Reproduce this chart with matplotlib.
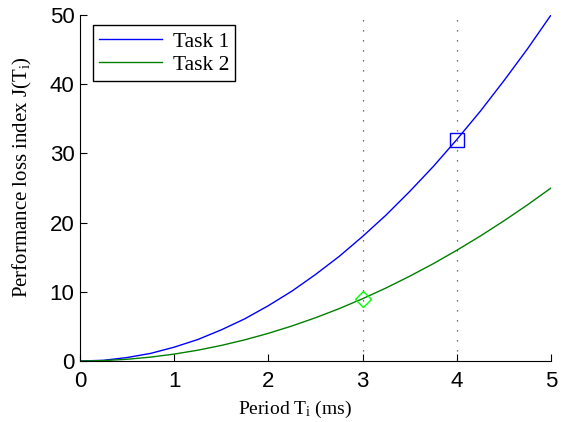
import numpy as np
from matplotlib import pyplot as plt

# Values
period = [0, 0.25, 0.5, 0.75, 1.0, 1.25, 1.5, 1.75, 2.0, 2.25, 2.5,
          2.75, 3.0, 3.25, 3.5, 3.75, 4.0, 4.25, 4.5, 4.75, 5.0]
task1 = [0, 0.1, 0.5, 1.1, 2.0, 3.1, 4.5, 6.1, 8.0, 10.1, 12.5,
         15.1, 18.0, 21.1, 24.5, 28.1, 32.0, 36.1, 40.5, 45.1, 50.0]
task2 = [0, 0.06, 0.25, 0.56, 1.0, 1.56, 2.25, 3.06, 4.0, 5.06, 6.25,
         7.56, 9.0, 10.56, 12.25, 14.06, 16.0, 18.06, 20.25, 22.56, 25.0]
marked_periods = [3, 4]
task1_mark = (4, 32)
task2_mark = (3, 9)

plt.rcParams['mathtext.fontset'] = 'custom'
plt.rcParams['mathtext.rm'] = 'Liberation Serif'
plt.rcParams['mathtext.it'] = 'Liberation Serif'

fig = plt.figure(figsize=(5.65, 4.22), dpi=100)
ax = fig.add_axes([80 / 565, 61 / 422, 471 / 565, 346 / 422])

for p in marked_periods:
    ax.axvline(p, color='#444444', linestyle=(0, (1, 7)), linewidth=0.9)

ax.plot(period, task1, color='#0000ff', linewidth=1, label='Task 1')
ax.plot(period, task2, color='#008000', linewidth=1, label='Task 2')
ax.plot(*task1_mark, marker='s', markersize=10, markerfacecolor='none',
        markeredgecolor='#0000ff', markeredgewidth=1)
ax.plot(*task2_mark, marker='D', markersize=8.5, markerfacecolor='none',
        markeredgecolor='#00ff00', markeredgewidth=1)

ax.set_xlim(0, 5)
ax.set_ylim(0, 50)
ax.set_xticks([0, 1, 2, 3, 4, 5])
ax.set_yticks([0, 10, 20, 30, 40, 50])
ax.spines['top'].set_visible(False)
ax.spines['right'].set_visible(False)
ax.tick_params(direction='in', length=5, labelsize=16)
ax.tick_params(axis='x', pad=7)
ax.tick_params(axis='y', pad=4)
for lab in ax.get_xticklabels() + ax.get_yticklabels():
    lab.set_family('Liberation Sans')

ax.set_xlabel(r'Period T$_\mathrm{i}$ (ms)', family='Liberation Serif', fontsize=14,
              labelpad=5)
ax.set_ylabel(r'Performance loss index J(T$_\mathrm{i}$)', family='Liberation Serif',
              fontsize=15, labelpad=11)
# labels sit a little off-centre in the original
ax.xaxis.label.set_x(0.456)
ax.yaxis.label.set_y(0.532)

leg = ax.legend(loc='upper left', bbox_to_anchor=(13 / 471, 1 - 10 / 346),
                prop={'family': 'Liberation Serif', 'size': 15.5},
                fancybox=False, framealpha=1, edgecolor='black',
                handlelength=2.9, handletextpad=0.5, borderpad=0.3, labelspacing=0.15,
                borderaxespad=0)
leg.get_frame().set_linewidth(1)

plt.savefig('out.png', dpi=100)
